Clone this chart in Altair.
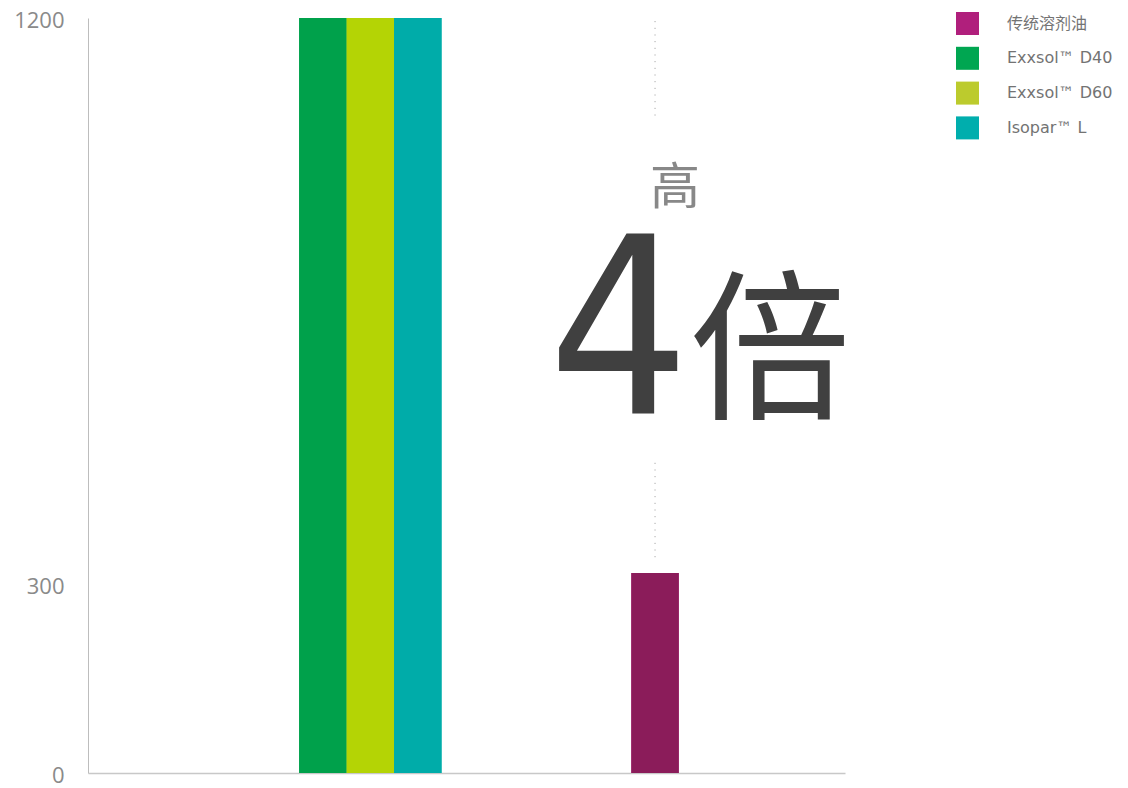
import altair as alt
import pandas as pd

# ---- data ----
groups = ["Exxsol™ / Isopar™", "传统溶剂油"]
series = ["传统溶剂油", "Exxsol™ D40", "Exxsol™ D60", "Isopar™ L"]
legend_colors = ["#B01F7C", "#00A651", "#BCCB2D", "#00AEAD"]
bar_colors = ["#8B1C5A", "#00A14B", "#B4D405", "#00ACA9"]

new_series = ["Exxsol™ D40", "Exxsol™ D60", "Isopar™ L"]
new_values = [1200, 1200, 1200]
old_series = ["传统溶剂油"]
old_values = [318]

tick_values = [0, 300, 1200]

guide_top = [1195, 493]
guide_bottom = [1045, 342]

annot_labels = ["高", "4", "倍"]
annot_values = [904, 572, 582]

# ---- tables ----
new_df = pd.DataFrame({"group": groups[0], "series": new_series, "value": new_values})
old_df = pd.DataFrame({"group": groups[1], "series": old_series, "value": old_values})
rule_df = pd.DataFrame({"group": groups[1], "value": guide_top, "value2": guide_bottom})
annot_df = pd.DataFrame({"group": groups[1], "label": annot_labels, "value": annot_values})

AXISFONT = "Open Sans, 'Noto Sans CJK SC', sans-serif"
LEGFONT = "'DejaVu Sans', 'Noto Sans CJK SC', sans-serif"

x_enc = alt.X(
    "group:N",
    scale=alt.Scale(domain=groups, paddingInner=0.5, paddingOuter=0.5795, align=0.64),
    axis=alt.Axis(labels=False, ticks=False, title=None, domainColor="#c8c8c8", domainWidth=1.5),
)
y_enc = alt.Y(
    "value:Q",
    scale=alt.Scale(domain=[0, 1200], nice=False),
    axis=alt.Axis(
        values=tick_values, format="d", ticks=False, tickSize=0, grid=False, title=None,
        labelFont=AXISFONT, labelFontSize=22, labelColor="#8a8a8a", labelPadding=24,
        labelOffset=2, domainColor="#bdbdbd", domainWidth=1,
    ),
)
color_enc = alt.Color(
    "series:N",
    scale=alt.Scale(domain=series, range=legend_colors),
    legend=alt.Legend(
        title=None, orient="none", legendX=868, legendY=-6, padding=0,
        symbolType="square", symbolSize=529, symbolStrokeWidth=0, symbolOpacity=1,
        labelFont=LEGFONT, labelFontSize=16, labelColor="#737373", labelOffset=28,
        rowPadding=11.8,
    ),
)
fill_enc = alt.Fill("series:N", scale=alt.Scale(domain=series, range=bar_colors), legend=None)
xoff = alt.XOffset("series:N", scale=alt.Scale(domain=new_series))

third = alt.RelativeBandSize(band=1 / 3)

a0 = alt.Chart(new_df).mark_bar().encode(x=x_enc, xOffset=xoff, y=y_enc, color=color_enc)
a1 = alt.Chart(new_df).mark_bar().encode(x=x_enc, xOffset=xoff, y=y_enc, fill=fill_enc)
b0 = alt.Chart(old_df).mark_bar(width=third).encode(x=x_enc, y=y_enc, color=color_enc)
b1 = alt.Chart(old_df).mark_bar(width=third).encode(x=x_enc, y=y_enc, fill=fill_enc)

rules = alt.Chart(rule_df).mark_rule(
    strokeDash=[1, 5.67], color="#999999", strokeWidth=1
).encode(x=x_enc, y=y_enc, y2="value2:Q")

t_gao = alt.Chart(annot_df).transform_filter(alt.datum.label == "高").mark_text(
    font="'Noto Sans CJK SC', sans-serif", fontSize=50, color="#888888",
    align="center", baseline="alphabetic", dx=20,
).encode(x=x_enc, y=y_enc, text="label:N")

t_four = alt.Chart(annot_df).transform_filter(alt.datum.label == "4").mark_text(
    font="'DejaVu Sans Condensed', 'DejaVu Sans', sans-serif", fontSize=247, color="#404040",
    align="center", baseline="alphabetic", dx=-36,
).encode(x=x_enc, y=y_enc, text="label:N")

t_bei = alt.Chart(annot_df).transform_filter(alt.datum.label == "倍").mark_text(
    font="'Noto Sans CJK SC', sans-serif", fontSize=161, color="#404040",
    align="center", baseline="alphabetic", dx=115,
).encode(x=x_enc, y=y_enc, text="label:N")

chart = alt.layer(a0, a1, b0, b1, rules, t_gao, t_four, t_bei).properties(
    width=757,
    height=755,
    autosize=alt.AutoSizeParams(type="none"),
    padding={"left": 80, "top": 10, "right": 275, "bottom": 14},
).configure_view(stroke=None)

chart.save("out.html", embed_options={"renderer": "svg", "actions": False})
